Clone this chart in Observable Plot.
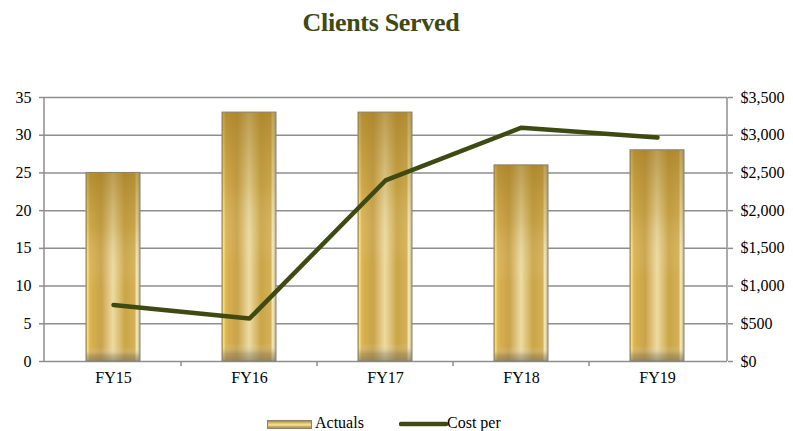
<!DOCTYPE html>
<html>
<head>
<meta charset="utf-8">
<script src="https://cdn.jsdelivr.net/npm/d3@7"></script>
<script src="https://cdn.jsdelivr.net/npm/@observablehq/plot@0.6"></script>
<style>
  html, body { margin: 0; padding: 0; background: #fff; }
  #wrap { position: relative; width: 793px; height: 431px; overflow: hidden; font-family: "Liberation Serif", "Times New Roman", serif; }
  #title { position: absolute; top: 8px; left: 0; width: 762px; text-align: center; font-size: 26px; line-height: 30px; font-weight: bold; color: #3e4a12; letter-spacing: -0.3px; }
  #chart { position: absolute; top: 45px; left: 0; }
  #chart svg, #chart svg text, #chart svg tspan { font-family: "Liberation Serif", "Times New Roman", serif !important; }
  #legend { position: absolute; top: 414px; left: 0; width: 793px; height: 18px; font-size: 16px; color: #000; }
  .li { position: absolute; top: 0; line-height: 18px; }
</style>
</head>
<body>
<div id="wrap">
  <div id="title">Clients Served</div>
  <div id="chart"></div>
  <div id="legend">
    <svg class="li" style="left:267px;top:6px" width="45" height="9">
      <rect x="0.5" y="0.5" width="44" height="8" fill="url(#goldLegend)" stroke="#8a8270" stroke-width="1"></rect>
    </svg>
    <span class="li" style="left:315px">Actuals</span>
    <svg class="li" style="left:399px;top:7px" width="49" height="6">
      <line x1="2" y1="3" x2="47" y2="3" stroke="#3e4a12" stroke-width="4.5" stroke-linecap="round"></line>
    </svg>
    <span class="li" style="left:447px">Cost per</span>
  </div>
</div>
<script>
const categories = ["FY15", "FY16", "FY17", "FY18", "FY19"];
const actuals = [25, 33, 33, 26, 28];
const costPer = [750, 570, 2400, 3100, 2970];
const leftTicks = [0, 5, 10, 15, 20, 25, 30, 35];
const rightTickLabels = ["$0", "$500", "$1,000", "$1,500", "$2,000", "$2,500", "$3,000", "$3,500"];

const data = categories.map((c, i) => ({cat: c, actual: actuals[i], cost: costPer[i]}));
const gridColor = "#8e8e8e";
const lineColor = "#3e4a12";
const serif = "Liberation Serif";

const chart = Plot.plot({
  width: 793,
  height: 360,
  marginTop: 52,
  marginBottom: 44,
  marginLeft: 44,
  marginRight: 66,
  style: {fontFamily: "'Liberation Serif', serif", fontSize: "16px", color: "#000", background: "transparent"},
  x: {domain: categories, paddingInner: 0.6, paddingOuter: 0.3, label: null, axis: null},
  y: {domain: [0, 35], label: null},
  marks: [
    Plot.gridY(leftTicks, {stroke: gridColor, strokeOpacity: 1, strokeWidth: 1.5}),
    Plot.barY(data, {x: "cat", y: "actual", fill: "url(#goldH)"}),
    Plot.barY(data, {x: "cat", y: "actual", fill: "url(#goldV)", stroke: "#8a8270", strokeWidth: 1}),
    // tick marks (labels drawn as text marks below)
    Plot.axisY(leftTicks, {anchor: "left", tickSize: 5, stroke: gridColor, strokeWidth: 1.5, tickFormat: () => "", label: null}),
    Plot.axisY(leftTicks, {anchor: "right", tickSize: 5, stroke: gridColor, strokeWidth: 1.5, tickFormat: () => "", label: null}),
    Plot.text(leftTicks, {y: d => d, text: d => String(d), frameAnchor: "left", dx: -13, textAnchor: "end",
      fontFamily: serif, fontSize: 16, fill: "#000"}),
    Plot.text(leftTicks, {y: d => d, text: d => rightTickLabels[leftTicks.indexOf(d)], frameAnchor: "right", dx: 13, textAnchor: "start",
      fontFamily: serif, fontSize: 16, fill: "#000"}),
    Plot.text(categories, {x: d => d, text: d => d, frameAnchor: "bottom", lineAnchor: "top", dy: 10,
      fontFamily: serif, fontSize: 16, fill: "#000"}),
    Plot.line(data, {x: "cat", y: d => d.cost / 100, stroke: lineColor, strokeWidth: 4.5, strokeLinejoin: "round", strokeLinecap: "round"})
  ]
});

// gradient definitions + axis lines + category boundary ticks
const svg = d3.select(chart);
const defs = svg.insert("defs", ":first-child");
function grad(id, x2, y2, stops) {
  const g = defs.append("linearGradient").attr("id", id).attr("x1", 0).attr("y1", 0).attr("x2", x2).attr("y2", y2);
  stops.forEach(([o, c, op]) => g.append("stop").attr("offset", o).attr("stop-color", c).attr("stop-opacity", op == null ? 1 : op));
}
grad("goldH", 1, 0, [
  [0, "#c8a040"], [0.03, "#f9e27a"], [0.07, "#dcb452"], [0.28, "#c9a24a"],
  [0.5, "#ecdba2"], [0.72, "#cba647"], [0.9, "#d4b058"], [0.94, "#f6ecb6"], [1, "#b9af92"]
]);
grad("goldV", 0, 1, [
  [0, "#9c741c", 0.6], [0.3, "#a8842c", 0.25], [0.6, "#ffffff", 0], [0.93, "#ffffff", 0], [0.97, "#7a7466", 0.35], [1, "#6e6a60", 0.6]
]);

const xs = chart.scale("x");
const ys = chart.scale("y");
const y0 = ys.apply(0), y35 = ys.apply(35);
const left = 44, right = 793 - 66;
const g = svg.append("g").attr("stroke", gridColor).attr("stroke-width", 1.5);
g.append("line").attr("x1", left).attr("x2", left).attr("y1", y35).attr("y2", y0);
g.append("line").attr("x1", right).attr("x2", right).attr("y1", y35).attr("y2", y0);
for (let i = 0; i < categories.length - 1; i++) {
  const xm = (xs.apply(categories[i]) + xs.apply(categories[i + 1])) / 2 + xs.bandwidth / 2;
  g.append("line").attr("x1", xm).attr("x2", xm).attr("y1", y0).attr("y2", y0 + 5);
}
// bring line mark to front
svg.selectAll("g[aria-label='line']").raise();

document.getElementById("chart").appendChild(chart);

// legend gradient
const lsvg = d3.select("#legend svg");
const ld = lsvg.insert("defs", ":first-child");
const lg = ld.append("linearGradient").attr("id", "goldLegend").attr("x1", 0).attr("y1", 0).attr("x2", 0).attr("y2", 1);
[[0, "#a27c26"], [0.3, "#d9bd6a"], [0.55, "#f1e3a8"], [0.8, "#c9a24a"], [1, "#9a8a5a"]].forEach(([o, c]) => lg.append("stop").attr("offset", o).attr("stop-color", c));
</script>
</body>
</html>
